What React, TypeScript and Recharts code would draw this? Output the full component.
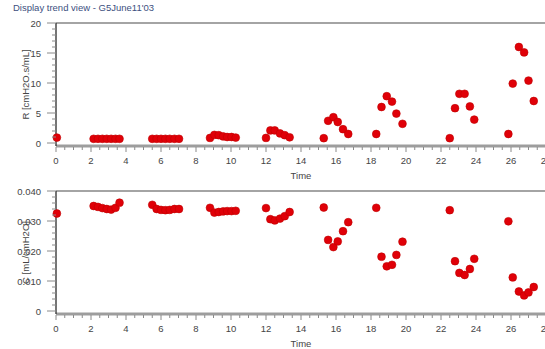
import React from 'react';
import { ScatterChart, Scatter, XAxis, YAxis, ReferenceLine, Label } from 'recharts';

// Measurement times (hours), shared by both trends
const time = [
  0.05,
  2.15, 2.4, 2.65, 2.9, 3.15, 3.4, 3.63,
  5.5, 5.75, 6.0, 6.25, 6.5, 6.77, 7.03,
  8.8, 9.05, 9.3, 9.55, 9.78, 10.03, 10.27,
  12.0, 12.25, 12.5, 12.8, 13.07, 13.35,
  15.3, 15.55, 15.85, 16.1, 16.4, 16.7,
  18.3, 18.6, 18.9, 19.2, 19.45, 19.8,
  22.5, 22.8, 23.05, 23.35, 23.65, 23.9,
  25.85, 26.1, 26.45, 26.75, 27.0, 27.3,
];

// Resistance R [cmH2O.s/mL]
const resistance = [
  0.9,
  0.7, 0.7, 0.7, 0.7, 0.7, 0.7, 0.7,
  0.7, 0.7, 0.7, 0.7, 0.7, 0.7, 0.7,
  0.85, 1.35, 1.3, 1.1, 1.0, 1.0, 0.9,
  0.85, 2.1, 2.1, 1.6, 1.3, 0.95,
  0.8, 3.7, 4.3, 3.5, 2.3, 1.5,
  1.5, 6.0, 7.8, 6.9, 4.9, 3.2,
  0.8, 5.8, 8.2, 8.2, 6.1, 3.9,
  1.5, 9.9, 16.0, 15.1, 10.4, 7.0,
];

// Compliance C [mL/cmH2O]
const compliance = [
  0.0325,
  0.0350, 0.0347, 0.0343, 0.0340, 0.0338, 0.0344, 0.0361,
  0.0354, 0.0340, 0.0337, 0.0336, 0.0337, 0.0340, 0.0340,
  0.0344, 0.0328, 0.0330, 0.0332, 0.0333, 0.0333, 0.0334,
  0.0343, 0.0306, 0.0302, 0.0308, 0.0316, 0.0330,
  0.0345, 0.0237, 0.0213, 0.0232, 0.0266, 0.0296,
  0.0344, 0.0181, 0.0149, 0.0154, 0.0187, 0.0231,
  0.0336, 0.0166, 0.0127, 0.0120, 0.0140, 0.0174,
  0.0299, 0.0112, 0.0065, 0.0052, 0.0062, 0.0080,
];

// Labelled tick values
const timeLabels = [0, 2, 4, 6, 8, 10, 12, 14, 16, 18, 20, 22, 24, 26, 28];
const rLabels = [0, 5, 10, 15, 20];
const cLabels = [0, 0.01, 0.02, 0.03, 0.04];

const FONT = '"Liberation Sans", Arial, sans-serif';
const DOT = '#e00008';

// Minor ticks between labelled ones
const withMinor = (labels: number[], parts: number) => {
  const out: number[] = [];
  for (let i = 0; i < labels.length - 1; i++) {
    const a = labels[i];
    const step = (labels[i + 1] - a) / parts;
    for (let k = 0; k < parts; k++) out.push(+(a + k * step).toFixed(6));
  }
  out.push(labels[labels.length - 1]);
  return out;
};

const timeTicks = withMinor(timeLabels, 4);
const rTicks = withMinor(rLabels, 5);
const cTicks = withMinor(cLabels, 5);

const isLabel = (labels: number[], v: number) => labels.some((l) => Math.abs(l - v) < 1e-9);

const XTick = (props: any) => {
  const { x, y, payload } = props;
  const v = payload.value;
  const major = isLabel(timeLabels, v);
  return (
    <g>
      <line x1={x} x2={x} y1={y + 1} y2={y + (major ? 6 : 4)} stroke="#8a8a8a" strokeWidth={1} />
      {major && (
        <text x={x} y={y + 18} textAnchor="middle" fontSize={9.5} fill="#444" fontFamily={FONT}>
          {v}
        </text>
      )}
    </g>
  );
};

const makeYTick = (labels: number[], fmt: (v: number) => string) => (props: any) => {
  const { x, y, payload } = props;
  const v = payload.value;
  const major = isLabel(labels, v);
  return (
    <g>
      <line x1={x} x2={x - (major ? 9 : 4)} y1={y} y2={y} stroke="#8a8a8a" strokeWidth={1} />
      {major && (
        <text x={x - 15} y={y + 3.5} textAnchor="end" fontSize={9.5} fill="#444" fontFamily={FONT}>
          {fmt(v)}
        </text>
      )}
    </g>
  );
};

const RTick = makeYTick(rLabels, (v) => String(v));
const CTick = makeYTick(cLabels, (v) => (v === 0 ? '0' : v.toFixed(3)));

const yTitle = (text: string) => (props: any) => {
  const vb = props.viewBox || {};
  const cx = vb.x + 19;
  const cy = vb.y + vb.height / 2;
  return (
    <text
      x={cx}
      y={cy}
      transform={`rotate(-90, ${cx}, ${cy})`}
      textAnchor="middle"
      dominantBaseline="central"
      fontSize={9.5}
      fill="#444"
      fontFamily={FONT}
    >
      {text}
    </text>
  );
};

const Dot = (props: any) => <circle cx={props.cx} cy={props.cy} r={3.9} fill={DOT} stroke="#c00000" strokeWidth={0.6} />;

const rRows = time.map((t, i) => ({ t, v: resistance[i] }));
const cRows = time.map((t, i) => ({ t, v: compliance[i] }));

const W = 560;
const H = 181;
const MARGIN = { top: 23, right: 14, bottom: 0, left: 6 };

type TrendProps = {
  rows: { t: number; v: number }[];
  domain: [number, number];
  ticks: number[];
  tick: any;
  top: number;
  title: string;
};

const Trend = ({ rows, domain, ticks, tick, top, title }: TrendProps) => (
  <div style={{ position: 'absolute', left: 0, top }}>
    <ScatterChart width={W} height={H} margin={MARGIN}>
      <XAxis
        dataKey="t"
        type="number"
        domain={[0, 28]}
        ticks={timeTicks}
        interval={0}
        tickSize={0}
        tickMargin={0}
        tickLine={false}
        tick={<XTick />}
        height={35}
        axisLine={{ stroke: '#9d9d9d', strokeWidth: 3 }}
      >
        <Label value="Time" position="insideBottom" offset={2} fontSize={9.5} fill="#444" fontFamily={FONT} />
      </XAxis>
      <YAxis
        dataKey="v"
        type="number"
        domain={domain}
        ticks={ticks}
        interval={0}
        tickSize={0}
        tickMargin={0}
        tickLine={false}
        tick={tick}
        width={50}
        allowDataOverflow
        axisLine={{ stroke: '#3a3a3a', strokeWidth: 1.4 }}
      >
        <Label content={yTitle(title)} />
      </YAxis>
      <ReferenceLine y={domain[1]} stroke="#4a4a4a" strokeWidth={1.2} />
      <ReferenceLine x={28} stroke="#4a4a4a" strokeWidth={1.2} />
      <Scatter data={rows} shape={Dot} isAnimationActive={false} />
    </ScatterChart>
  </div>
);

export default function App() {
  return (
    <div
      style={{
        position: 'absolute',
        left: 0,
        top: 0,
        width: 545,
        height: 349,
        overflow: 'hidden',
        background: '#fff',
        fontFamily: FONT,
      }}
    >
      <div
        style={{
          position: 'absolute',
          left: 13,
          top: 2,
          fontSize: 9.5,
          color: '#3d4f80',
          whiteSpace: 'nowrap',
        }}
      >
        Display trend view - G5June11'03
      </div>
      <Trend rows={rRows} domain={[-0.5, 20]} ticks={rTicks} tick={<RTick />} top={0} title="R [cmH2O.s/mL]" />
      <Trend rows={cRows} domain={[-0.001, 0.04]} ticks={cTicks} tick={<CTick />} top={168} title="C [mL/cmH2O]" />
    </div>
  );
}
